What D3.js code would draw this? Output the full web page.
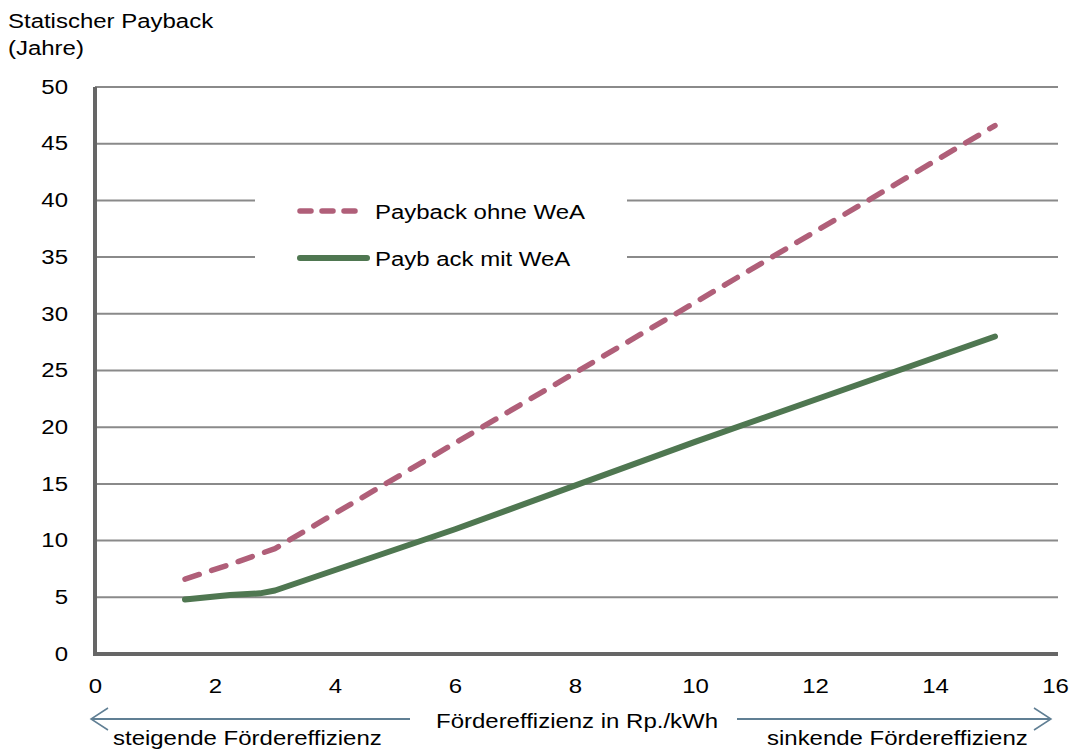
<!DOCTYPE html>
<html>
<head>
<meta charset="utf-8">
<script src="https://cdn.jsdelivr.net/npm/d3@7"></script>
<style>
  html, body { margin: 0; padding: 0; background: #fff; }
  svg { display: block; font-family: "Liberation Sans", Arial, sans-serif; }
</style>
</head>
<body>
<svg id="chart" width="1078" height="752"></svg>
<script>
// ---- data ----
const seriesNames = ["Payback ohne WeA", "Payb ack mit WeA"];
const xOhne = [1.5, 2.25, 3, 6, 10, 15];
const yOhne = [6.6, 7.9, 9.3, 18.6, 31.0, 46.6];
const xMit = [1.5, 2.25, 2.75, 3, 6, 10, 15];
const yMit = [4.8, 5.2, 5.35, 5.6, 11.0, 18.7, 28.0];
const xTicks = [0, 2, 4, 6, 8, 10, 12, 14, 16];
const yTicks = [0, 5, 10, 15, 20, 25, 30, 35, 40, 45, 50];
const yTitle = ["Statischer Payback", "(Jahre)"];
const xTitle = "Fördereffizienz in Rp./kWh";
const leftNote = "steigende Fördereffizienz";
const rightNote = "sinkende Fördereffizienz";

const svg = d3.select("#chart");
const x = d3.scaleLinear().domain([0, 16]).range([95, 1055]);
const y = d3.scaleLinear().domain([0, 50]).range([654, 87]);

const colOhne = "#b05f79";
const colMit = "#4f7751";
const fs = 19.5;
const sx = 1.23;

// horizontally stretch text about its anchor point
function stretch(sel) {
  sel.each(function() {
    const t = d3.select(this);
    const ax = +(t.attr("x") || 0);
    t.attr("transform", `translate(${ax},0) scale(${sx},1) translate(${-ax},0)`);
  });
}

// gridlines
svg.append("g").selectAll("line").data(yTicks.filter(d => d > 0)).join("line")
  .attr("x1", x(0)).attr("x2", 1058)
  .attr("y1", d => y(d)).attr("y2", d => y(d))
  .attr("stroke", "#8a8a8a").attr("stroke-width", 2);

// axes lines
svg.append("line").attr("x1", x(0)).attr("x2", x(0)).attr("y1", y(50)).attr("y2", y(0))
  .attr("stroke", "#666").attr("stroke-width", 4);
svg.append("line").attr("x1", x(0) - 2).attr("x2", 1058).attr("y1", y(0)).attr("y2", y(0))
  .attr("stroke", "#666").attr("stroke-width", 4);

// tick labels via d3 axes
const yAxis = d3.axisLeft(y).tickValues(yTicks).tickSize(0).tickPadding(27).tickFormat(d3.format("d"));
const gy = svg.append("g").attr("transform", `translate(${x(0)},0)`).call(yAxis);
gy.select(".domain").remove();
gy.selectAll("text").attr("font-size", fs).attr("font-family", "Liberation Sans, Arial, sans-serif").attr("fill", "#000").call(stretch);

const xAxis = d3.axisBottom(x).tickValues(xTicks).tickSize(0).tickPadding(25).tickFormat(d3.format("d"));
const gx = svg.append("g").attr("transform", `translate(0,${y(0)})`).call(xAxis);
gx.select(".domain").remove();
gx.selectAll("text").attr("font-size", fs).attr("font-family", "Liberation Sans, Arial, sans-serif").attr("fill", "#000").call(stretch);

// lines
const line = d3.line().x(d => x(d[0])).y(d => y(d[1]));
svg.append("path").datum(xOhne.map((v, i) => [v, yOhne[i]]))
  .attr("d", line).attr("fill", "none").attr("stroke", colOhne).attr("stroke-width", 5.5)
  .attr("stroke-dasharray", "15,13").attr("stroke-linecap", "round").attr("stroke-linejoin", "round");
svg.append("path").datum(xMit.map((v, i) => [v, yMit[i]]))
  .attr("d", line).attr("fill", "none").attr("stroke", colMit).attr("stroke-width", 6)
  .attr("stroke-linecap", "round").attr("stroke-linejoin", "round");

// legend
const lg = svg.append("g");
lg.append("rect").attr("x", 255).attr("y", 178).attr("width", 372).attr("height", 100).attr("fill", "#fff");
lg.append("line").attr("x1", 300).attr("x2", 358).attr("y1", 211).attr("y2", 211)
  .attr("stroke", colOhne).attr("stroke-width", 5.5).attr("stroke-dasharray", "11,11").attr("stroke-linecap", "round");
lg.append("text").attr("x", 375).attr("y", 219).attr("font-size", fs).text(seriesNames[0]).call(stretch);
lg.append("line").attr("x1", 300).attr("x2", 367).attr("y1", 258).attr("y2", 258)
  .attr("stroke", colMit).attr("stroke-width", 6).attr("stroke-linecap", "round");
lg.append("text").attr("x", 375).attr("y", 266).attr("font-size", fs).text(seriesNames[1]).call(stretch);

// y title
svg.append("text").attr("x", 8).attr("y", 28).attr("font-size", fs).text(yTitle[0]).call(stretch);
svg.append("text").attr("x", 8).attr("y", 55).attr("font-size", fs).text(yTitle[1]).call(stretch);

// bottom arrows and labels
const arrowCol = "#607f94";
const ay = 719;
const ag = svg.append("g").attr("stroke", arrowCol).attr("stroke-width", 2).attr("fill", "none");
ag.append("line").attr("x1", 91).attr("x2", 410).attr("y1", ay).attr("y2", ay);
ag.append("polyline").attr("points", `108,708 91,${ay} 108,730`).attr("stroke-width", 1.5);
ag.append("line").attr("x1", 737).attr("x2", 1051).attr("y1", ay).attr("y2", ay);
ag.append("polyline").attr("points", `1034,708 1051,${ay} 1034,730`).attr("stroke-width", 1.5);

svg.append("text").attr("x", 577).attr("y", 728).attr("text-anchor", "middle").attr("font-size", fs).text(xTitle).call(stretch);
svg.append("text").attr("x", 113).attr("y", 745).attr("font-size", fs).text(leftNote).call(stretch);
svg.append("text").attr("x", 767).attr("y", 745).attr("font-size", fs).text(rightNote).call(stretch);
</script>
</body>
</html>
